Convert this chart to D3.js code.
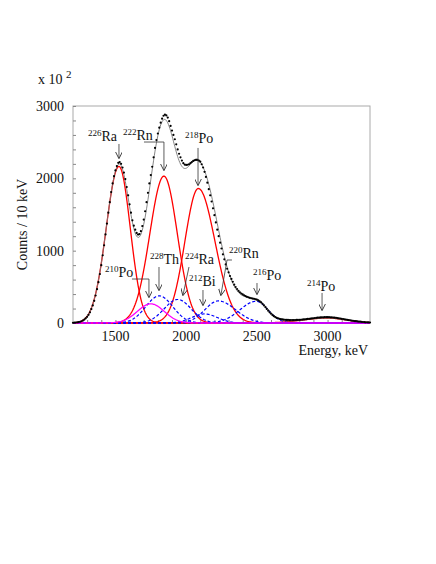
<!DOCTYPE html>
<meta charset="utf-8">
<html>
  <head>
  <script src="https://d3js.org/d3.v7.min.js"></script>
  <style>
    body { margin: 0; background: white; }
    text { font-family: "Liberation Serif", "Times New Roman", serif; fill: #111; }
  </style>
  </head>
 <body>
  <svg id="spectrum"></svg>
  <script>
    // measured spectrum, counts per 10 keV (x100), one value per 10 keV bin from 1200 keV
    var binStart = 1200, binStep = 10;
    var counts = [
      3, 4, 6, 9, 12, 17, 24, 34, 47, 64,
      85, 113, 148, 192, 243, 306, 380, 467, 565, 677,
      800, 935, 1075, 1225, 1375, 1525, 1670, 1810, 1930, 2030,
      2110, 2170, 2215, 2225, 2200, 2150, 2080, 1990, 1880, 1765,
      1640, 1525, 1420, 1345, 1290, 1245, 1222, 1230, 1270, 1340,
      1430, 1545, 1670, 1800, 1930, 2045, 2160, 2290, 2420, 2530,
      2620, 2700, 2770, 2825, 2865, 2880, 2870, 2840, 2790, 2725,
      2660, 2600, 2540, 2470, 2400, 2340, 2290, 2245, 2210, 2190,
      2185, 2188, 2195, 2210, 2225, 2240, 2250, 2255, 2255, 2245,
      2230, 2195, 2150, 2090, 2020, 1940, 1850, 1765, 1680, 1585,
      1490, 1390, 1290, 1200, 1110, 1030, 950, 880, 810, 750,
      700, 650, 610, 570, 530, 498, 470, 445, 425, 408,
      395, 382, 372, 362, 355, 348, 342, 338, 334, 328,
      322, 312, 300, 284, 265, 243, 220, 195, 170, 148,
      128, 110, 95, 82, 72, 64, 58, 53, 50, 47,
      45, 43, 42, 41, 41, 41, 41, 41, 42, 43,
      44, 45, 47, 49, 51, 53, 56, 58, 61, 63,
      66, 68, 71, 73, 75, 77, 78, 79, 80, 80,
      80, 80, 79, 78, 76, 74, 71, 68, 65, 62,
      58, 55, 51, 47, 44, 40, 37, 33, 30, 27,
      25, 22, 20, 18, 16, 14, 12, 10, 9, 8,
      7];

    // fitted components
    var isotopes   = ["226Ra", "222Rn", "218Po", "214Po", "228Th", "224Ra", "212Bi", "220Rn", "216Po", "210Po"];
    var chains     = ["U", "U", "U", "U", "Th", "Th", "Th", "Th", "Th", "Po"];
    var centers    = [1525, 1843, 2086, 2995, 1810, 1940, 2130, 2228, 2495, 1750];
    var amplitudes = [2165, 2030, 1860, 68, 375, 325, 125, 305, 300, 265];
    var sigmaLow   = [90, 100, 95, 170, 95, 95, 90, 95, 115, 95];
    var sigmaHigh  = [80, 95, 118, 140, 95, 95, 90, 120, 85, 95];

    var margin = {top: 106, left: 73},
        width = 297, height = 217;

    var svg = d3.select("#spectrum")
        .attr("width", 436)
        .attr("height", 564);

    var x = d3.scaleLinear().domain([1200, 3300]).range([margin.left, margin.left + width]);
    var y = d3.scaleLinear().domain([0, 3000]).range([margin.top + height, margin.top]);

    // frame
    svg.append("rect")
        .attr("x", x(1200)).attr("y", y(3000))
        .attr("width", width).attr("height", height)
        .style("fill", "none").style("stroke", "#aaa").style("stroke-width", 1);

    // ticks (inside)
    svg.append("g")
        .attr("transform", "translate(" + x(1200) + ",0)")
        .call(d3.axisRight(y).tickValues(d3.range(0, 3001, 200)).tickSize(3).tickFormat(""))
        .call(function(g) { g.select(".domain").remove(); g.selectAll("line").style("stroke", "#888"); });
    svg.append("g")
        .attr("transform", "translate(0," + y(0) + ")")
        .call(d3.axisTop(x).tickValues(d3.range(1300, 3300, 100)).tickSize(3).tickFormat(""))
        .call(function(g) { g.select(".domain").remove(); g.selectAll("line").style("stroke", "#888"); });

    // tick labels
    svg.append("g").selectAll("text")
        .data([0, 1000, 2000, 3000])
        .enter().append("text")
        .attr("x", x(1200) - 9)
        .attr("y", function(d) { return y(d) + 5; })
        .attr("text-anchor", "end")
        .style("font-size", "14px")
        .text(function(d) { return d; });
    svg.append("g").selectAll("text")
        .data([1500, 2000, 2500, 3000])
        .enter().append("text")
        .attr("x", function(d) { return x(d); })
        .attr("y", y(0) + 18)
        .attr("text-anchor", "middle")
        .style("font-size", "14px")
        .text(function(d) { return d; });

    svg.append("text")
        .attr("x", x(3300) - 2).attr("y", y(0) + 32)
        .attr("text-anchor", "end")
        .style("font-size", "14px")
        .text("Energy, keV");
    svg.append("text")
        .attr("transform", "translate(27," + (y(1500) + 10) + ")rotate(-90)")
        .attr("text-anchor", "middle")
        .style("font-size", "14px")
        .text("Counts / 10 keV");
    var mult = svg.append("text").attr("x", 38).attr("y", 84).style("font-size", "14px");
    mult.append("tspan").text("x 10 ");
    mult.append("tspan").attr("dy", -6).style("font-size", "11px").text("2");

    // component curves
    var grid = d3.range(1200, 3300.1, 5);
    function shape(i, e) {
      var s = e < centers[i] ? sigmaLow[i] : sigmaHigh[i];
      return amplitudes[i] * Math.exp(-Math.pow(e - centers[i], 2) / (2 * s * s));
    }
    var line = d3.line().x(function(d) { return x(d[0]); }).y(function(d) { return y(d[1]); });
    var styleOf = {
      U:  {stroke: "#ff0000", dash: null, w: 1.3},
      Th: {stroke: "#0000ff", dash: "3,2", w: 1.2},
      Po: {stroke: "#ff00ff", dash: null, w: 1.3}
    };
    ["U", "Th", "Po"].forEach(function(c) {
      isotopes.forEach(function(iso, i) {
        if (chains[i] !== c) return;
        svg.append("path")
            .datum(grid.map(function(e) { return [e, shape(i, e)]; }))
            .attr("d", line)
            .style("fill", "none")
            .style("stroke", styleOf[c].stroke)
            .style("stroke-width", styleOf[c].w)
            .style("stroke-dasharray", styleOf[c].dash);
      });
    });

    // total fit
    svg.append("path")
        .datum(grid.map(function(e) {
          return [e, d3.sum(isotopes, function(iso, i) { return shape(i, e); })];
        }))
        .attr("d", line)
        .style("fill", "none").style("stroke", "#777").style("stroke-width", 0.9);

    // data points
    svg.append("g").selectAll("circle")
        .data(counts)
        .enter().append("circle")
        .attr("cx", function(d, i) { return x(binStart + i * binStep); })
        .attr("cy", function(d) { return y(d); })
        .attr("r", 1.1)
        .style("fill", "#000");

    // labels with arrows: text at [energy, counts], leader points in data units
    var labels = [
      {iso: "226Ra", at: [1306, 2516], path: [[1525, 2475], [1525, 2281]]},
      {iso: "222Rn", at: [1553, 2530], path: [[1702, 2502], [1843, 2502], [1843, 2115]]},
      {iso: "218Po", at: [1992, 2489], path: [[2084, 2420], [2084, 1908]]},
      {iso: "210Po", at: [1426, 636],  path: [[1617, 608], [1737, 608], [1737, 359]]},
      {iso: "228Th", at: [1744, 816],  path: [[1808, 774], [1808, 456]]},
      {iso: "224Ra", at: [1992, 816],  path: [[2020, 774], [1978, 387]]},
      {iso: "212Bi", at: [2020, 512],  path: [[2119, 456], [2119, 249]]},
      {iso: "220Rn", at: [2303, 899],  path: [[2324, 871], [2289, 871], [2246, 387]]},
      {iso: "216Po", at: [2473, 595],  path: [[2501, 553], [2501, 401]]},
      {iso: "214Po", at: [2855, 442],  path: [[2961, 415], [2961, 180]]}
    ];

    svg.append("defs").append("marker")
        .attr("id", "head")
        .attr("viewBox", "0 0 10 10")
        .attr("refX", 9).attr("refY", 5)
        .attr("markerWidth", 7).attr("markerHeight", 7)
        .attr("markerUnits", "userSpaceOnUse")
        .attr("orient", "auto")
      .append("path")
        .attr("d", "M0,0L10,5L0,10")
        .style("fill", "none").style("stroke", "#333").style("stroke-width", 1.3);

    labels.forEach(function(l) {
      var t = svg.append("text")
          .attr("x", x(l.at[0])).attr("y", y(l.at[1]))
          .style("font-size", "14px");
      t.append("tspan").style("font-size", "9px").attr("dy", -5).text(l.iso.slice(0, 3));
      t.append("tspan").attr("dy", 5).text(l.iso.slice(3));
      svg.append("path")
          .datum(l.path)
          .attr("d", line)
          .attr("marker-end", "url(#head)")
          .style("fill", "none").style("stroke", "#333").style("stroke-width", 0.8);
    });
  </script>
 </body>
</html>
